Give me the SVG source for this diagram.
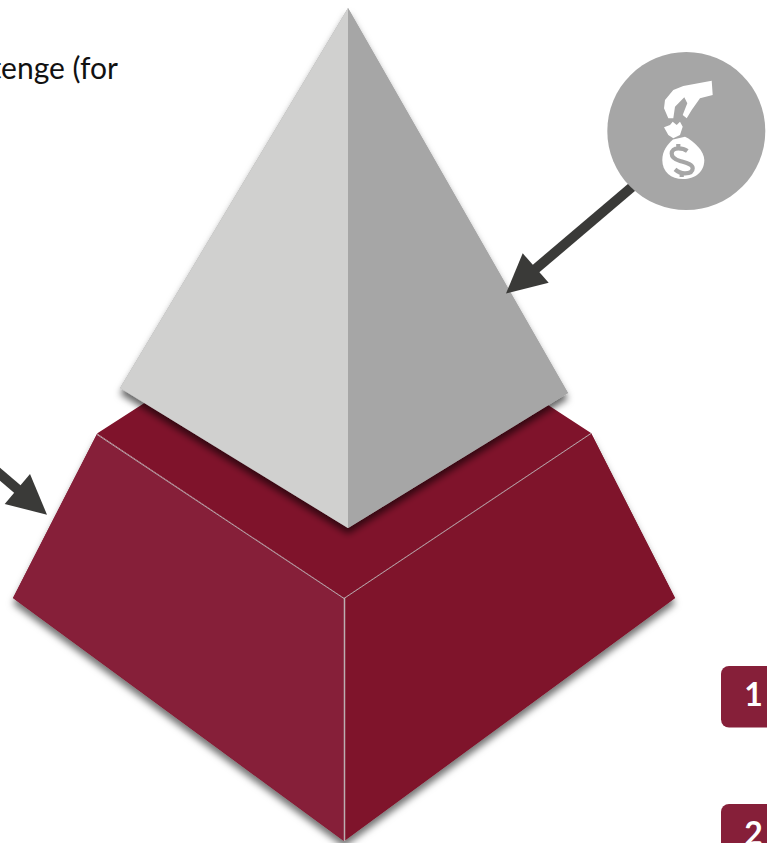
<svg xmlns="http://www.w3.org/2000/svg" width="767" height="843" viewBox="0 0 767 843">
<style>
.seam{fill:none;stroke:#b5a3a8;stroke-width:1}
.seam-v{fill:none;stroke:#bcaeb1;stroke-width:1.500}
.badge{fill:#861f39}
.num{font-family:Lato,"Open Sans",sans-serif;font-weight:700;font-size:32px;fill:#fff;text-anchor:middle}
.cap{font-family:Lato,"Open Sans",sans-serif;font-size:30px;fill:#111;text-anchor:end}
.arrow{fill:#3a3a38}
.shaft{stroke:#3a3a38;stroke-width:10;fill:none}
.icon{fill:#fff}
</style>
<defs>
<filter id="sh" x="-10%" y="-10%" width="120%" height="120%">
<feDropShadow dx="0" dy="6" stdDeviation="3.500" flood-color="#000" flood-opacity="0.6"/>
</filter>
<filter id="sh2" x="-10%" y="-10%" width="120%" height="120%">
<feDropShadow dx="0" dy="6" stdDeviation="3.500" flood-color="#000" flood-opacity="0.55"/>
</filter>
</defs>
<rect width="767" height="843" fill="#fff"/>
<text class="cap" x="118" y="79" id="caption">tenge (for</text>
<g id="base">
<path filter="url(#sh2)" d="M97 434L13 598L344 841L675 598L591 433L344 598Z" fill="#7f142b"/>
<path d="M97 433.500L344 598L591 433L548 405L348 500L146 402Z" fill="#7f132b"/>
<path d="M97 434L13 598L344 841L344 598Z" fill="#861f39"/>
<path d="M591 433L675 598L344 841L344 598Z" fill="#7f142b"/>
<path class="seam" d="M97 434.500L344 598.500L591 433.500"/>
<path class="seam-v" d="M344.500 598V841"/>
</g>
<g id="pyramid">
<path filter="url(#sh)" d="M348 8L120 388L348 528L568 393Z" fill="#a6a6a6"/>
<path d="M348 8L120 388L348 528Z" fill="#d0d0cf"/>
<path d="M348 8L568 393L348 528Z" fill="#a6a6a6"/>
</g>
<g id="connectors">
<path class="shaft" d="M632 187L532 272"/>
<path class="arrow" d="M506 293.500L522.700 253.300L548.700 282.700Z"/>
<path class="shaft" d="M-5 470L22 493"/>
<path class="arrow" d="M47 514.700L30 474L4.700 504Z"/>
</g>
<g id="icon-money">
<circle cx="686.300" cy="131" r="79" fill="#a6a6a6"/>
<path class="icon" d="M665 100L673.300 90L683.300 86L711.700 80.700L712.700 95L700 98.300L691.700 110L686.700 118.300L682.700 115L687.300 103.300L684.300 97.300L675 106.700L673.300 118.300L668.300 118.300L664 108.300Z"/>
<path class="icon" d="M664 127.300L670 125L672.700 121.700L676.700 125L680 121.700L682.700 126.700L680 135L673.300 138.300L668.300 135Z"/>
<path class="icon" d="M673 139.500C667 145 662.300 151 662.300 160C662.300 172 671 179 683 179C695 179 704.300 172 704.300 160C704.300 151 694 141 685 136.700Z"/>
<path d="M687.300 151C684 148.500 681 148.300 678.300 148.300C674 148.300 671.700 150.500 671.700 153.500C671.700 157.500 675 159.500 680 161C686 162.700 692.700 164 692.700 168.300C692.700 172 689 173.300 685 173.300C681 173.300 677.500 171.500 675 169.300M678.300 144V148M681.700 173V177" fill="none" stroke="#a6a6a6" stroke-width="4.200"/>
</g>
<g id="badge-1">
<rect class="badge" x="721" y="666" width="70" height="61.500" rx="8"/>
<text class="num" x="753.500" y="706">1</text>
</g>
<g id="badge-2">
<rect class="badge" x="721" y="804" width="70" height="61.500" rx="8"/>
<text class="num" x="753.500" y="845">2</text>
</g>
</svg>
